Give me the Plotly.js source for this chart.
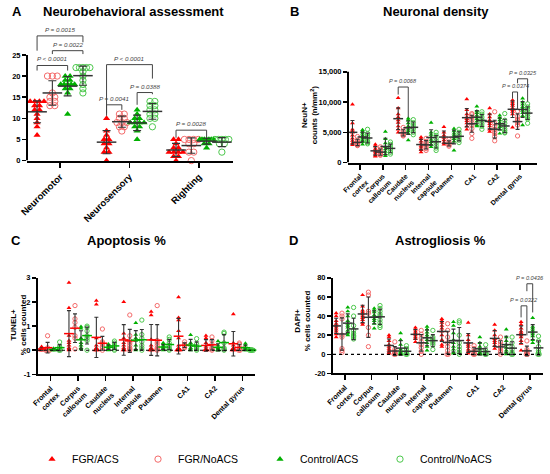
<!DOCTYPE html>
<html>
<head>
<meta charset="utf-8">
<script src="https://cdn.plot.ly/plotly-3.0.1.min.js"></script>
<style>
body { margin: 0; background: #fff; }
#chart { width: 550px; height: 474px; }
</style>
</head>
<body>
<div id="chart"></div>
<script>
// groups
const groupNames = ["FGR/ACS", "FGR/NoACS", "Control/ACS", "Control/NoACS"];
const groupColors = ["#FF0000", "#F46A6A", "#00B000", "#4CC84C"];
const groupSymbols = ["triangle-up", "circle-open", "triangle-up", "circle-open"];
const groupOffsets = [-0.33, -0.11, 0.11, 0.33];
const legendWidths = [61, 77, 75, 75];

const testNames = ["Neuromotor", "Neurosensory", "Righting"];
const regionNames = ["Frontal<br>cortex", "Corpus<br>callosum", "Caudate<br>nucleus", "Internal<br>capsule",
    "Putamen", "CA1", "CA2", "Dental gyrus"];

// A - neurobehavioral scores, one list per test
const neuroFgrAcs = [
    [14, 14, 14, 14, 13, 13, 12, 12, 11, 10, 9, 8, 6],
    [10, 7, 6, 5, 5, 4, 4, 3, 2, 2, 0],
    [5, 5, 4, 3, 3, 2, 2, 2, 2, 1, 1, 0]
];
const neuroFgrNoAcs = [
    [20, 20, 20, 16, 15, 15, 14, 14, 13, 13],
    [11, 11, 10, 10, 9, 9, 9, 8, 8, 7],
    [5, 5, 5, 5, 4, 4, 2, 2, 0]
];
const neuroCtrlAcs = [
    [20, 20, 19, 19, 18, 18, 18, 18, 18, 17, 17, 16, 11],
    [12, 11, 10, 10, 9, 9, 9, 9, 8, 8, 7, 5],
    [5, 5, 5, 5, 5, 5, 5, 4, 4, 3]
];
const neuroCtrlNoAcs = [
    [22, 22, 22, 22, 22, 21, 20, 19, 18, 17, 16],
    [14, 14, 13, 13, 12, 12, 11, 11, 10, 10, 8],
    [5, 5, 5, 5, 5, 4, 4, 2]
];

// B - NeuN+ counts (n/mm2), one list per region
const densityFgrAcs = [
    [9600, 6500, 5500, 5200, 5000, 4500, 4000, 3600, 3200, 2900],
    [3000, 2700, 2300, 2000, 1800, 1500, 1200, 1000],
    [10700, 9000, 8000, 7500, 7000, 6600, 6000, 5500, 5000],
    [4200, 3900, 3500, 3100, 2800, 2500, 2100, 1700],
    [5900, 5000, 4500, 4100, 3700, 3300, 3000],
    [10500, 8700, 8000, 7500, 7200, 6900, 6500, 6000, 5500],
    [9000, 8000, 7500, 7000, 6700, 6400, 6000, 5500, 5100],
    [10300, 10000, 9700, 9400, 9000, 8700, 8400, 8000, 5800]
];
const densityFgrNoAcs = [
    [4300, 3700, 3400, 3200, 3000, 2900, 2800],
    [2600, 2200, 1800, 1600, 1400, 1300, 1200],
    [5800, 5200, 4900, 4700, 4500, 4400],
    [4000, 3500, 3200, 2900, 2600, 2300, 2000],
    [3800, 3400, 3100, 2900, 2700],
    [8100, 7900, 7500, 7000, 6600, 6200, 5600, 4800, 4000],
    [8400, 6500, 6000, 5500, 5100, 4800, 4300, 3600],
    [8500, 7600, 7200, 6900, 6600, 6200, 4400]
];
const densityCtrlAcs = [
    [5400, 5100, 4800, 4500, 4200, 4000, 3700, 3400, 3000],
    [5100, 3900, 3200, 2600, 2200, 1800, 1400, 1100],
    [7300, 7000, 6500, 6000, 5800, 5500, 5200, 4800, 3700],
    [6600, 5000, 4600, 4200, 3800, 3400, 3000, 2600],
    [5600, 5200, 4800, 4500, 4200, 3900, 3500, 2000],
    [9300, 8500, 8200, 7800, 7500, 7200, 6800, 6200, 6000],
    [7800, 7400, 7000, 6600, 6300, 5900, 5500, 4800],
    [10600, 10000, 9600, 9200, 8900, 8600, 8200, 7700, 6200]
];
const densityCtrlNoAcs = [
    [5500, 4800, 4400, 4100, 3800, 3500, 3300, 3100],
    [3400, 3000, 2600, 2300, 2000, 1700, 1400],
    [7100, 6600, 6200, 5800, 5500, 5000, 4600],
    [5000, 4500, 4000, 3600, 3200, 2800, 2400, 2000],
    [5500, 5000, 4600, 4300, 4000, 3700, 3300],
    [8400, 8000, 7500, 7100, 6800, 6400, 6000, 5500],
    [8100, 7000, 6500, 6000, 5600, 5300, 5000, 4900],
    [9700, 9200, 8800, 8400, 8000, 7600, 7200, 6500]
];

// C - TUNEL+ % cells counted
const tunelFgrAcs = [
    [0.15, 0.1, 0.08, 0.05, 0.03, 0, 0, 0],
    [2.8, 1.75, 0.6, 0.4, 0.3, 0.2, 0.1, 0.05, 0],
    [2.05, 1.9, 0.5, 0.2, 0.1, 0.05, 0, 0, 0],
    [2.0, 0.7, 0.5, 0.3, 0.2, 0.1, 0.05, 0, 0],
    [1.6, 1.45, 0.45, 0.2, 0.1, 0.05, 0, 0, 0],
    [2.2, 1.35, 1.25, 0.8, 0.5, 0.2, 0.1, 0, 0, 0, 0],
    [0.6, 0.5, 0.3, 0.15, 0.05, 0, 0, 0],
    [1.5, 0.3, 0.2, 0.1, 0.05, 0, 0, 0]
];
const tunelFgrNoAcs = [
    [0.6, 0.1, 0.05, 0, 0, 0, 0],
    [1.85, 1.3, 1.15, 0.95, 0.6, 0.5, 0.05],
    [0.88, 0.35, 0.3, 0.25, 0.15, 0.1, 0],
    [1.46, 0.6, 0.4, 0.3, 0.2, 0.1, 0.05, 0],
    [1.85, 0.4, 0.3, 0.2, 0.1, 0.05, 0],
    [0.35, 0.25, 0.2, 0.15, 0.1],
    [0.55, 0.4, 0.25, 0.1, 0.05, 0],
    [0.3, 0.25, 0.1, 0.05, 0, 0]
];
const tunelCtrlAcs = [
    [0.08, 0.05, 0.03, 0, 0, 0],
    [0.98, 0.9, 0.5, 0.3, 0.2, 0.1, 0.05],
    [0.25, 0.2, 0.15, 0.1, 0.05, 0],
    [1.13, 0.65, 0.5, 0.4, 0.2, 0.05, 0],
    [0.3, 0.2, 0.15, 0.1, 0.05, 0],
    [0.64, 0.3, 0.2, 0.1, 0.05, 0],
    [0.38, 0.2, 0.1, 0.05, 0, 0],
    [0.28, 0.2, 0.1, 0.05, 0, 0]
];
const tunelCtrlNoAcs = [
    [0.34, 0.15, 0.1, 0.05, 0, 0],
    [1.0, 0.95, 0.8, 0.6, 0.5, 0.4, 0],
    [0.38, 0.3, 0.2, 0.15, 0.05, 0],
    [1.25, 0.65, 0.5, 0.35, 0.2, 0.1, 0],
    [0.55, 0.45, 0.3, 0.2, 0.1, 0.05, 0],
    [0.48, 0.25, 0.15, 0.1, 0.05, 0],
    [0.75, 0.7, 0.3, 0.1, 0.05, 0],
    [0.02, 0.01, 0, 0, 0, 0]
];

// D - DAPI+ % cells counted
const dapiFgrAcs = [
    [43, 40, 35, 32, 30, 28, 26, 24, 21, 18],
    [62, 50, 46, 44, 42, 40, 38, 36, 33, 31],
    [20, 18, 14, 10, 8, 6, 4, 2, 1],
    [28, 26, 24, 22, 20, 18, 16, 13],
    [37, 35, 33, 30, 27, 24, 20, 15, 10, 8],
    [33, 20, 15, 12, 10, 8, 5, 3, 1],
    [31, 25, 20, 16, 14, 12, 9, 6],
    [34, 31, 27, 24, 22, 20, 18, 14, 11, 4]
];
const dapiFgrNoAcs = [
    [43, 40, 37, 20, 18, 6, 4, 2],
    [65, 62, 45, 43, 28, 20, 8],
    [13, 5, 3, 2, 1, 0, 0],
    [25, 21, 17, 13, 10, 7, 3, 0],
    [32, 25, 18, 12, 8, 4, 0, 0],
    [9, 6, 3, 1, 0, 0],
    [18, 13, 10, 7, 4, 2, 0],
    [14, 5, 3, 2, 1, 0, 0]
];
const dapiCtrlAcs = [
    [49, 45, 40, 35, 32, 30, 28, 25, 22, 20],
    [48, 46, 44, 41, 39, 37, 35, 32, 27],
    [22, 15, 10, 5, 3, 2, 1, 0, 0],
    [29, 26, 23, 20, 18, 15, 12, 8, 4],
    [34, 30, 22, 15, 12, 8, 5, 2, 1],
    [18, 12, 8, 5, 2, 1, 0, 0],
    [26, 18, 14, 10, 7, 4, 2, 0],
    [38, 29, 27, 25, 23, 21, 19, 15, 12]
];
const dapiCtrlNoAcs = [
    [49, 40, 30, 25, 22, 20, 19, 18, 16],
    [51, 48, 45, 42, 40, 36, 33, 30, 28],
    [9, 6, 4, 2, 1, 0, 0],
    [25, 18, 16, 14, 12, 10, 5],
    [35, 33, 20, 12, 8, 5, 2, 0],
    [10, 4, 2, 1, 0, 0],
    [18, 12, 8, 5, 2, 0, 0],
    [19, 14, 8, 4, 2, 0, 0]
];

// comparisons: [category, group1, group2, leg1 end, bracket top, leg2 end, label]
const neuroPValues = [
    [0, 0, 3, 26.0, 29.5, 28.0, "P = 0.0015"],
    [0, 1, 3, 25.2, 26.0, 25.2, "P = 0.0022"],
    [0, 0, 2, 21.3, 22.5, 21.3, "P < 0.0001"],
    [1, 0, 3, 10.6, 22.7, 19.4, "P < 0.0001"],
    [1, 0, 1, 11.2, 13.2, 12.0, "P = 0.0041"],
    [1, 2, 3, 13.2, 16.1, 15.7, "P = 0.0388"],
    [2, 0, 2, 5.4, 7.2, 5.4, "P = 0.0028"]
];
const densityPValues = [
    [2, 0, 2, 11240, 12490, 7440, "P = 0.0068"],
    [7, 0, 1, 10590, 11670, 8690, "P = 0.0374"],
    [7, 1, 3, 13100, 13850, 10050, "P = 0.0325"]
];
const dapiPValues = [
    [7, 0, 1, 38.6, 50.7, 19.7, "P = 0.0322"],
    [7, 1, 2, 66, 73.8, 43.8, "P = 0.0436"]
];

const W = 550, H = 474;
function px(x){ return x / W; }
function py(y){ return 1 - y / H; }

let traces = [];
let shapes = [];
let annotations = [];

addPanel([neuroFgrAcs, neuroFgrNoAcs, neuroCtrlAcs, neuroCtrlNoAcs], "x", "y",
    {size: 6.3, step: 0.07, maxSpread: 0.2, meanSize: 14, capWidth: 4, legend: true, colorMean: false});
addPanel([densityFgrAcs, densityFgrNoAcs, densityCtrlAcs, densityCtrlNoAcs], "x2", "y2",
    {size: 4.3, step: 0.04, maxSpread: 0.12, meanSize: 7, capWidth: 2, legend: false, colorMean: false});
addPanel([tunelFgrAcs, tunelFgrNoAcs, tunelCtrlAcs, tunelCtrlNoAcs], "x3", "y3",
    {size: 4.3, step: 0.05, maxSpread: 0.14, meanSize: 7, capWidth: 2, legend: false, colorMean: true});
addPanel([dapiFgrAcs, dapiFgrNoAcs, dapiCtrlAcs, dapiCtrlNoAcs], "x4", "y4",
    {size: 4.3, step: 0.05, maxSpread: 0.14, meanSize: 7, capWidth: 2, legend: false, colorMean: false});

addBrackets(neuroPValues, "x", "y", 6.2);
addBrackets(densityPValues, "x2", "y2", 5.6);
addBrackets(dapiPValues, "x4", "y4", 5.6);

// y axis lines that stop at the top tick (A and B)
shapes.push(axisLine("x domain", "y", 0, 25));
shapes.push(axisLine("x2 domain", "y2", 0, 15000));

// dotted zero lines (C and D)
shapes.push(zeroLine("x3 domain", "y3"));
shapes.push(zeroLine("x4 domain", "y4"));

// panel letters and titles
addText("A", 17, 12, 13, true);
addText("Neurobehavioral assessment", 133, 12, 13, true);
addText("B", 294, 12, 13, true);
addText("Neuronal density", 436, 12, 13, true);
addText("C", 16, 244, 13, true);
addText("Apoptosis %", 126, 244, 13, true);
addText("D", 293, 244, 13, true);
addText("Astrogliosis %", 441, 244, 13, true);

// y axis titles
addYTitle("NeuN+<br>counts (n/mm<sup>2</sup>)", 309, 117);
addYTitle("TUNEL+<br>% cells counted", 18, 330);
addYTitle("DAPI+<br>% cells counted", 302, 326);

let tickFontA = {size: 7.5, color: "#000", weight: "bold"};
let tickFontX = {size: 7.2, color: "#000", weight: "bold"};

let layout = {
    width: W,
    height: H,
    margin: {l: 0, r: 0, t: 0, b: 0},
    paper_bgcolor: "#fff",
    plot_bgcolor: "rgba(0,0,0,0)",
    font: {family: "Arial, 'Liberation Sans', sans-serif", color: "#000"},
    showlegend: true,
    legend: {
        orientation: "h",
        x: px(32),
        xanchor: "left",
        y: py(466),
        yanchor: "middle",
        font: {size: 10.5, color: "#000"},
        itemsizing: "trace",
        bgcolor: "rgba(0,0,0,0)"
    },
    xaxis: getXAxis([px(27), px(233)], [-0.475, 2.49], testNames, "y", {size: 9.5, color: "#000", weight: "bold"}),
    yaxis: getYAxis([py(163), py(30)], [0, 31], [0, 5, 10, 15, 20, 25], null, "x", tickFontA, false),
    xaxis2: getXAxis([px(348), px(537)], [-0.525, 7.74], regionNames, "y2", {size: 6.8, color: "#000", weight: "bold"}),
    yaxis2: getYAxis([py(165), py(70)], [0, 15475], [0, 5000, 10000, 15000], ["0", "5,000", "10,000", "15,000"], "x2", tickFontA, false),
    xaxis3: getXAxis([px(38), px(255)], [-0.46, 7.46], regionNames, "y3", tickFontX),
    yaxis3: getYAxis([py(380), py(282)], [-1, 3], [-1, 0, 1, 2, 3], ["-1", "0", "1", "2", "3"], "x3", tickFontA, true),
    xaxis4: getXAxis([px(333), px(543)], [-0.45, 7.5], regionNames, "y4", tickFontX),
    yaxis4: getYAxis([py(379), py(282)], [-20, 80], [-20, 0, 20, 40, 60, 80], ["-20", "0", "20", "40", "60", "80"], "x4", tickFontA, true),
    shapes: shapes,
    annotations: annotations
};

Plotly.newPlot("chart", traces, layout, {displayModeBar: false, staticPlot: true});

function addPanel(data, xa, ya, opts){
    // points first, then mean and SD on top
    for (let g = 0; g < 4; g++){
        let xs = [];
        let ys = [];
        for (let c = 0; c < data[g].length; c++){
            xs = xs.concat(spreadX(data[g][c], c + groupOffsets[g], opts.step, opts.maxSpread));
            ys = ys.concat(data[g][c]);
        }
        let open = groupSymbols[g] === "circle-open";
        traces.push({
            type: "scatter",
            mode: "markers",
            name: groupNames[g],
            legendgroup: groupNames[g],
            showlegend: opts.legend,
            legendwidth: legendWidths[g],
            x: xs,
            y: ys,
            xaxis: xa,
            yaxis: ya,
            cliponaxis: false,
            hoverinfo: "skip",
            marker: {
                symbol: groupSymbols[g],
                size: opts.size,
                color: groupColors[g],
                line: {color: groupColors[g], width: open ? 1 : 0}
            }
        });
    }
    for (let g = 0; g < 4; g++){
        let mx = [];
        let my = [];
        let sd = [];
        for (let c = 0; c < data[g].length; c++){
            mx.push(c + groupOffsets[g]);
            my.push(computeMean(data[g][c]));
            sd.push(computeSd(data[g][c]));
        }
        let meanColor = opts.colorMean ? (g < 2 ? "#FF0000" : "#00B000") : "#333";
        traces.push({
            type: "scatter",
            mode: "markers",
            showlegend: false,
            x: mx,
            y: my,
            xaxis: xa,
            yaxis: ya,
            cliponaxis: false,
            hoverinfo: "skip",
            marker: {
                symbol: "line-ew",
                size: opts.meanSize,
                color: meanColor,
                line: {color: meanColor, width: 1.5}
            },
            error_y: {
                type: "data",
                array: sd,
                visible: true,
                color: "#333",
                thickness: 1.1,
                width: opts.capWidth
            }
        });
    }
}

function addBrackets(list, xa, ya, fontSize){
    for (let i = 0; i < list.length; i++){
        let p = list[i];
        let x1 = p[0] + groupOffsets[p[1]];
        let x2 = p[0] + groupOffsets[p[2]];
        shapes.push({
            type: "path",
            xref: xa,
            yref: ya,
            path: "M " + x1 + "," + p[3] + " L " + x1 + "," + p[4] + " L " + x2 + "," + p[4] + " L " + x2 + "," + p[5],
            line: {color: "#444", width: 1}
        });
        annotations.push({
            xref: xa,
            yref: ya,
            x: (x1 + x2) / 2,
            y: p[4],
            yanchor: "bottom",
            yshift: 1,
            showarrow: false,
            text: "<i>" + p[6] + "</i>",
            font: {size: fontSize, color: "#444"}
        });
    }
}

function axisLine(xref, yref, y0, y1){
    return {
        type: "line",
        xref: xref,
        yref: yref,
        x0: 0,
        x1: 0,
        y0: y0,
        y1: y1,
        line: {color: "#000", width: 2}
    };
}

function zeroLine(xref, yref){
    return {
        type: "line",
        xref: xref,
        yref: yref,
        x0: 0,
        x1: 1,
        y0: 0,
        y1: 0,
        line: {color: "#000", width: 1.2, dash: "dot"}
    };
}

function addText(text, x, y, size, bold){
    annotations.push({
        xref: "paper",
        yref: "paper",
        x: px(x),
        y: py(y),
        xanchor: "center",
        yanchor: "middle",
        showarrow: false,
        text: text,
        font: {size: size, color: "#000", weight: bold ? "bold" : "normal"}
    });
}

function addYTitle(text, x, y){
    annotations.push({
        xref: "paper",
        yref: "paper",
        x: px(x),
        y: py(y),
        xanchor: "center",
        yanchor: "middle",
        textangle: -90,
        showarrow: false,
        text: text,
        font: {size: 8, color: "#000", weight: "bold"}
    });
}

function getXAxis(domain, range, labels, anchor, tickFont){
    let vals = [];
    for (let i = 0; i < labels.length; i++){
        vals.push(i);
    }
    return {
        domain: domain,
        range: range,
        anchor: anchor,
        tickvals: vals,
        ticktext: labels,
        tickangle: -45,
        ticks: "outside",
        ticklen: 5,
        tickwidth: 1.5,
        tickcolor: "#000",
        showline: true,
        linewidth: 2,
        linecolor: "#000",
        showgrid: false,
        zeroline: false,
        tickfont: tickFont,
        fixedrange: true
    };
}

function getYAxis(domain, range, vals, labels, anchor, tickFont, line){
    let axis = {
        domain: domain,
        range: range,
        anchor: anchor,
        tickvals: vals,
        ticks: "outside",
        ticklen: 4,
        tickwidth: 1.5,
        tickcolor: "#000",
        showline: line,
        linewidth: 2,
        linecolor: "#000",
        showgrid: false,
        zeroline: false,
        tickfont: tickFont,
        fixedrange: true
    };
    if (labels){
        axis.ticktext = labels;
    }
    return axis;
}

function spreadX(values, center, step, maxSpread){
    // side by side placement for equal values, like a dot plot
    let counts = {};
    let seen = {};
    let xs = [];
    for (let i = 0; i < values.length; i++){
        counts[values[i]] = (counts[values[i]] || 0) + 1;
    }
    for (let i = 0; i < values.length; i++){
        let k = counts[values[i]];
        let j = seen[values[i]] || 0;
        seen[values[i]] = j + 1;
        let s = k > 1 ? Math.min(step, maxSpread / (k - 1)) : 0;
        xs.push(center + (j - (k - 1) / 2) * s);
    }
    return xs;
}

function computeMean(values){
    let v = 0;
    for (let i = 0; i < values.length; i++){
        v = v + values[i];
    }
    return (v / values.length);
}

function computeSd(values){
    let m = computeMean(values);
    let v = 0;
    for (let i = 0; i < values.length; i++){
        v = v + (values[i] - m) * (values[i] - m);
    }
    return Math.sqrt(v / (values.length - 1));
}
</script>
</body>
</html>
